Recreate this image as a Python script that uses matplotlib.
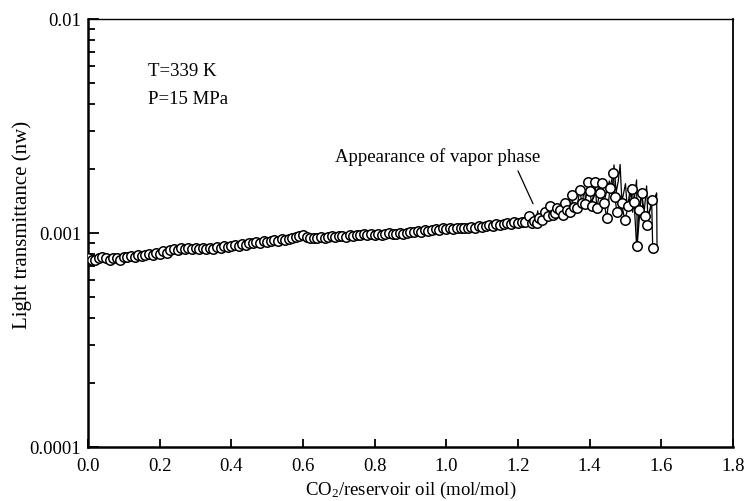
import numpy as np
import matplotlib
matplotlib.use('Agg')
import matplotlib.pyplot as plt
from matplotlib.ticker import FixedLocator, LogLocator, NullFormatter

# Plot settings
plt.rcParams['font.family'] = 'Liberation Serif'
plt.rcParams['font.size'] = 13.5
plt.rcParams['mathtext.fontset'] = 'custom'
plt.rcParams['mathtext.rm'] = 'Liberation Serif'
plt.rcParams['mathtext.it'] = 'Liberation Serif:italic'

# Data: CO2 / oil ratio (mol/mol) and light transmittance (x1e-3 nw)
x_smooth = [0.00, 0.01, 0.02, 0.03, 0.04, 0.05, 0.06, 0.07, 0.08, 0.09,
            0.10, 0.11, 0.12, 0.13, 0.14, 0.15, 0.16, 0.17, 0.18, 0.19,
            0.20, 0.21, 0.22, 0.23, 0.24, 0.25, 0.26, 0.27, 0.28, 0.29,
            0.30, 0.31, 0.32, 0.33, 0.34, 0.35, 0.36, 0.37, 0.38, 0.39,
            0.40, 0.41, 0.42, 0.43, 0.44, 0.45, 0.46, 0.47, 0.48, 0.49,
            0.50, 0.51, 0.52, 0.53, 0.54, 0.55, 0.56, 0.57, 0.58, 0.59,
            0.60, 0.61, 0.62, 0.63, 0.64, 0.65, 0.66, 0.67, 0.68, 0.69,
            0.70, 0.71, 0.72, 0.73, 0.74, 0.75, 0.76, 0.77, 0.78, 0.79,
            0.80, 0.81, 0.82, 0.83, 0.84, 0.85, 0.86, 0.87, 0.88, 0.89,
            0.90, 0.91, 0.92, 0.93, 0.94, 0.95, 0.96, 0.97, 0.98, 0.99,
            1.00, 1.01, 1.02, 1.03, 1.04, 1.05, 1.06, 1.07, 1.08, 1.09,
            1.10, 1.11, 1.12, 1.13, 1.14, 1.15, 1.16, 1.17, 1.18, 1.19,
            1.20, 1.21, 1.22]
y_smooth = [0.76, 0.75, 0.75, 0.76, 0.77, 0.76, 0.75, 0.76, 0.76, 0.75,
            0.77, 0.77, 0.78, 0.77, 0.79, 0.78, 0.79, 0.80, 0.79, 0.81,
            0.80, 0.82, 0.81, 0.83, 0.84, 0.83, 0.85, 0.84, 0.85, 0.84,
            0.85, 0.84, 0.85, 0.84, 0.85, 0.84, 0.86, 0.85, 0.87, 0.86,
            0.87, 0.88, 0.87, 0.89, 0.88, 0.90, 0.90, 0.91, 0.90, 0.92,
            0.91, 0.92, 0.93, 0.92, 0.94, 0.93, 0.94, 0.95, 0.96, 0.97,
            0.98, 0.96, 0.95, 0.95, 0.95, 0.96, 0.95, 0.96, 0.97, 0.96,
            0.97, 0.97, 0.96, 0.98, 0.97, 0.98, 0.98, 0.99, 0.98, 0.99,
            0.98, 0.99, 0.98, 0.99, 1.00, 0.99, 0.99, 1.00, 0.99, 1.00,
            1.01, 1.01, 1.02, 1.01, 1.03, 1.02, 1.03, 1.04, 1.03, 1.05,
            1.04, 1.05, 1.04, 1.05, 1.06, 1.05, 1.06, 1.07, 1.06, 1.08,
            1.07, 1.08, 1.09, 1.08, 1.10, 1.09, 1.10, 1.11, 1.10, 1.12,
            1.11, 1.13, 1.12]

x_noisy = [1.230, 1.238, 1.245, 1.252, 1.260, 1.266, 1.275, 1.284, 1.289, 1.297,
           1.303, 1.310, 1.317, 1.325, 1.331, 1.336, 1.345, 1.350, 1.355, 1.364,
           1.373, 1.378, 1.387, 1.396, 1.401, 1.406, 1.415, 1.420, 1.428, 1.434,
           1.440, 1.448, 1.457, 1.466, 1.470, 1.476, 1.489, 1.498, 1.508, 1.517,
           1.524, 1.531, 1.538, 1.545, 1.554, 1.561, 1.573, 1.576]
y_noisy = [1.20, 1.11, 1.14, 1.11, 1.17, 1.15, 1.26, 1.20, 1.33, 1.22,
           1.24, 1.31, 1.28, 1.22, 1.38, 1.28, 1.26, 1.51, 1.32, 1.31,
           1.59, 1.38, 1.36, 1.74, 1.57, 1.33, 1.74, 1.31, 1.54, 1.71,
           1.38, 1.18, 1.63, 1.91, 1.48, 1.26, 1.38, 1.15, 1.33, 1.61,
           1.40, 0.87, 1.28, 1.54, 1.20, 1.09, 1.43, 0.85]

# raw trace in the two-phase region (thin line)
x_trace = [1.200, 1.220, 1.250, 1.255, 1.260, 1.300, 1.320, 1.330, 1.360, 1.380,
           1.385, 1.390, 1.410, 1.430, 1.440, 1.455, 1.462, 1.468, 1.474, 1.480,
           1.485, 1.490, 1.500, 1.505, 1.515, 1.520, 1.531, 1.533, 1.545, 1.550,
           1.559, 1.562, 1.570, 1.587, 1.588]
y_trace = [1.11, 1.12, 1.13, 1.27, 1.14, 1.20, 1.30, 1.22, 1.35, 1.40,
           1.62, 1.35, 1.45, 1.70, 1.40, 1.75, 1.50, 2.08, 1.55, 1.75,
           2.09, 1.40, 1.70, 1.30, 1.68, 1.25, 1.77, 0.89, 1.60, 1.15,
           1.66, 1.22, 1.30, 1.54, 0.86]

x_pts = np.array(x_smooth + x_noisy)
y_pts = np.array(y_smooth + y_noisy) * 1e-3

fig = plt.figure(figsize=(7.51, 5.02), dpi=100)
ax = fig.add_axes([0.1172, 0.1076, 0.8588, 0.8526])

ax.plot(np.array(x_trace), np.array(y_trace) * 1e-3, color='black', lw=0.9, zorder=2)
ax.plot(x_pts, y_pts, color='black', lw=0.9, marker='o', markersize=6.8,
        markerfacecolor='white', markeredgecolor='black', markeredgewidth=1.1, zorder=3)

ax.set_yscale('log')
ax.set_xlim(0, 1.8)
ax.set_ylim(1e-4, 1e-2)

ax.xaxis.set_major_locator(FixedLocator([0.0, 0.2, 0.4, 0.6, 0.8, 1.0, 1.2, 1.4, 1.6, 1.8]))
ax.set_xticklabels(['0.0', '0.2', '0.4', '0.6', '0.8', '1.0', '1.2', '1.4', '1.6', '1.8'])
ax.yaxis.set_major_locator(FixedLocator([1e-4, 1e-3, 1e-2]))
ax.set_yticklabels(['0.0001', '0.001', '0.01'])
ax.yaxis.set_minor_locator(LogLocator(base=10, subs=np.arange(2, 10)))
ax.yaxis.set_minor_formatter(NullFormatter())

ax.tick_params(which='both', direction='in', top=False, right=False, width=1.3)
ax.tick_params(axis='y', which='major', length=8, pad=5)
ax.tick_params(axis='y', which='minor', length=5)
ax.tick_params(axis='x', which='major', length=6, pad=7)

ax.spines['left'].set_linewidth(1.8)
ax.spines['bottom'].set_linewidth(1.8)
ax.spines['top'].set_linewidth(1.0)
ax.spines['right'].set_linewidth(1.3)

ax.set_xlabel(r'CO$_2$/reservoir oil (mol/mol)', fontsize=13.5)
ax.set_ylabel('Light transmittance (nw)', fontsize=15)
ax.xaxis.set_label_coords(0.5, -0.074)
ax.yaxis.set_label_coords(-0.087, 0.52)

ax.text(0.167, 0.0055, 'T=339 K')
ax.text(0.167, 0.00404, 'P=15 MPa')
ax.text(0.689, 0.00217, 'Appearance of vapor phase')
ax.annotate('', xy=(1.242, 0.00137), xytext=(1.20, 0.00195),
            arrowprops=dict(arrowstyle='-', color='black', lw=0.9,
                            shrinkA=0, shrinkB=0))

fig.savefig('out.png', dpi=100)
